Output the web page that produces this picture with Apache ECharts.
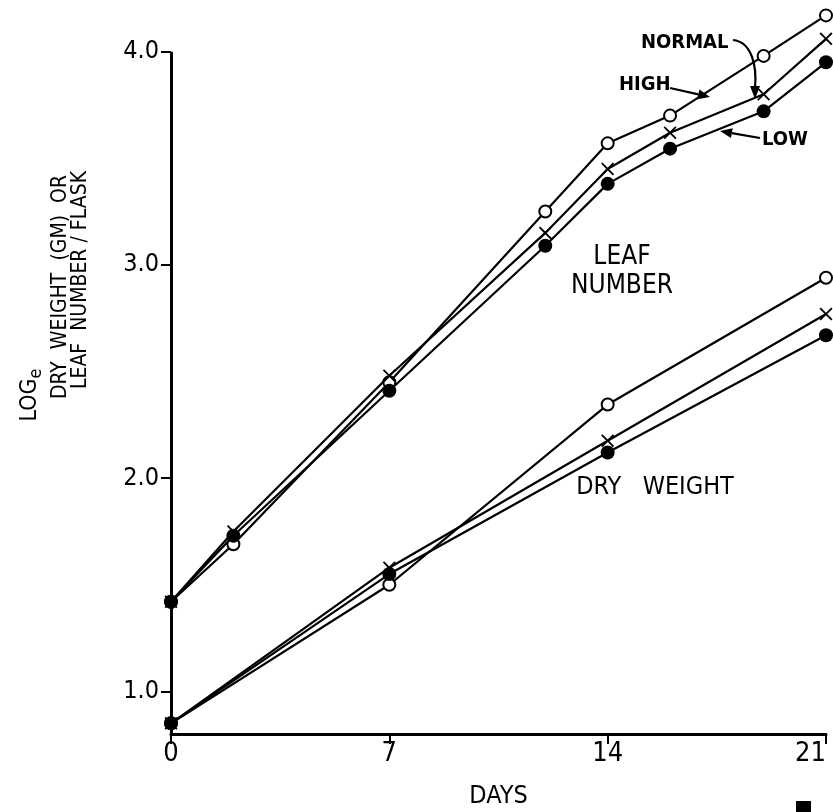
<!DOCTYPE html>
<html>
<head>
<meta charset="utf-8">
<script src="https://cdn.jsdelivr.net/npm/echarts@6.0.0/dist/echarts.min.js"></script>
<style>
html, body { margin: 0; padding: 0; background: #fff; }
#chart { width: 833px; height: 812px; }
</style>
</head>
<body>
<div id="chart"></div>
<script>
// leaf number, log e
var leafDays = [0, 2, 7, 12, 14, 16, 19, 21]
var leafHigh = [1.42, 1.69, 2.45, 3.25, 3.57, 3.70, 3.98, 4.17]
var leafNormal = [1.42, 1.75, 2.48, 3.15, 3.45, 3.62, 3.80, 4.06]
var leafLow = [1.42, 1.73, 2.41, 3.09, 3.38, 3.545, 3.72, 3.95]

// dry weight, log e
var dryDays = [0, 7, 14, 21]
var dryHigh = [0.85, 1.50, 2.345, 2.94]
var dryNormal = [0.85, 1.58, 2.175, 2.77]
var dryLow = [0.85, 1.55, 2.12, 2.67]

var xTicks = [0, 7, 14, 21]
var yTicks = [1, 2, 3, 4]

var font = '"Liberation Sans Narrow", "DejaVu Sans Condensed", "Liberation Sans", sans-serif'
var crossPath = 'path://M0,1L1,0L5,4L9,0L10,1L6,5L10,9L9,10L5,6L1,10L0,9L4,5Z'

function pairs(xs, ys) {
  return xs.map(function (x, i) { return [x, ys[i]] })
}

function curve(name, xs, ys, kind, z) {
  var s = {
    name: name,
    type: 'line',
    data: pairs(xs, ys),
    showAllSymbol: true,
    z: z,
    lineStyle: { color: '#000', width: 2.2 }
  }
  if (kind == 'open') {
    s.symbol = 'emptyCircle'
    s.symbolSize = 12
    s.itemStyle = { color: '#000', borderColor: '#000', borderWidth: 2.2 }
  } else if (kind == 'cross') {
    s.symbol = crossPath
    s.symbolSize = 13
    s.itemStyle = { color: '#000' }
  } else {
    s.symbol = 'circle'
    s.symbolSize = 14
    s.itemStyle = { color: '#000' }
  }
  return s
}

function arrow(x1, y1, x2, y2) {
  var a = Math.atan2(y2 - y1, x2 - x1)
  var L = 12, W = 5
  var bx = x2 - L * Math.cos(a), by = y2 - L * Math.sin(a)
  return [
    { type: 'line', shape: { x1: x1, y1: y1, x2: bx, y2: by }, style: { stroke: '#000', lineWidth: 2.2 } },
    { type: 'polygon', shape: { points: [[x2, y2],
      [bx + W * Math.sin(a), by - W * Math.cos(a)],
      [bx - W * Math.sin(a), by + W * Math.cos(a)]] }, style: { fill: '#000' } }
  ]
}

var series = [
  curve('leaf high', leafDays, leafHigh, 'open', 3),
  curve('leaf normal', leafDays, leafNormal, 'cross', 4),
  curve('leaf low', leafDays, leafLow, 'dot', 5),
  curve('dry high', dryDays, dryHigh, 'open', 3),
  curve('dry normal', dryDays, dryNormal, 'cross', 4),
  curve('dry low', dryDays, dryLow, 'dot', 5)
]
// y axis line only runs up to 4.0
series[0].markLine = {
  silent: true,
  symbol: ['none', 'none'],
  label: { show: false },
  lineStyle: { color: '#000', width: 3, type: 'solid' },
  data: [[{ coord: [0, 0.8] }, { coord: [0, 4.0] }]]
}

var txt = { fill: '#000', fontFamily: font }
var graphics = [
  { type: 'text', x: 641, y: 43, style: Object.assign({ text: 'NORMAL', fontSize: 20, fontWeight: 'bold', verticalAlign: 'middle' }, txt) },
  { type: 'text', x: 619, y: 85, style: Object.assign({ text: 'HIGH', fontSize: 20, fontWeight: 'bold', verticalAlign: 'middle' }, txt) },
  { type: 'text', x: 762, y: 140, style: Object.assign({ text: 'LOW', fontSize: 20, fontWeight: 'bold', verticalAlign: 'middle' }, txt) },
  { type: 'text', x: 622, y: 257, style: Object.assign({ text: 'LEAF', fontSize: 26, align: 'center', verticalAlign: 'middle' }, txt) },
  { type: 'text', x: 622, y: 286, style: Object.assign({ text: 'NUMBER', fontSize: 26, align: 'center', verticalAlign: 'middle' }, txt) },
  { type: 'text', x: 655, y: 487, style: Object.assign({ text: 'DRY   WEIGHT', fontSize: 25, align: 'center', verticalAlign: 'middle' }, txt) },
  { type: 'text', x: 30, y: 395, rotation: Math.PI / 2, style: {
    text: '{a|LOG}{b|e}', align: 'center', verticalAlign: 'middle',
    rich: { a: { fontSize: 23, fontFamily: font, fill: '#000' }, b: { fontSize: 18, fontFamily: font, fill: '#000', padding: [12, 0, 0, 0] } }
  } },
  { type: 'text', x: 61, y: 287, rotation: Math.PI / 2, style: Object.assign({ text: 'DRY  WEIGHT  (GM)  OR', fontSize: 21, align: 'center', verticalAlign: 'middle' }, txt) },
  { type: 'text', x: 81, y: 280, rotation: Math.PI / 2, style: Object.assign({ text: 'LEAF  NUMBER / FLASK', fontSize: 21, align: 'center', verticalAlign: 'middle' }, txt) },
  { type: 'bezierCurve', shape: { x1: 733, y1: 40, cpx1: 752, cpy1: 42, cpx2: 757, cpy2: 66, x2: 755, y2: 88 }, style: { stroke: '#000', lineWidth: 2.2, fill: 'none' } },
  { type: 'polygon', shape: { points: [[755, 99], [750, 86], [760, 86]] }, style: { fill: '#000' } },
  { type: 'rect', shape: { x: 796, y: 801, width: 15, height: 11 }, style: { fill: '#000' } }
]
graphics = graphics.concat(arrow(670, 88, 710, 97), arrow(760, 138, 720, 131))

var chart = echarts.init(document.getElementById('chart'))
var option = {
  animation: false,
  backgroundColor: '#fff',
  grid: { left: 171, right: 7, top: 9, bottom: 78, outerBoundsMode: 'none', containLabel: false },
  xAxis: {
    type: 'value',
    min: 0,
    max: 21,
    interval: 7,
    name: 'DAYS',
    nameLocation: 'middle',
    nameGap: 50,
    nameTextStyle: { fontSize: 25, fontFamily: font, color: '#000' },
    axisLine: { lineStyle: { color: '#000', width: 3 } },
    axisTick: { show: true, length: 10, lineStyle: { color: '#000', width: 2 } },
    axisLabel: { fontSize: 27, fontFamily: font, color: '#000', margin: 6,
      alignMaxLabel: 'right', padding: [0, 0, 0, 0],
      customValues: xTicks, formatter: function (v) { return String(v) } },
    splitLine: { show: false }
  },
  yAxis: {
    type: 'value',
    min: 0.8,
    max: 4.2,
    axisLine: { show: false },
    axisTick: { show: true, length: 10, customValues: yTicks, lineStyle: { color: '#000', width: 2 } },
    axisLabel: { fontSize: 25, fontFamily: font, color: '#000', margin: 12,
      customValues: yTicks, formatter: function (v) { return v.toFixed(1) } },
    splitLine: { show: false }
  },
  series: series,
  graphic: graphics
}
chart.setOption(option)
</script>
</body>
</html>
